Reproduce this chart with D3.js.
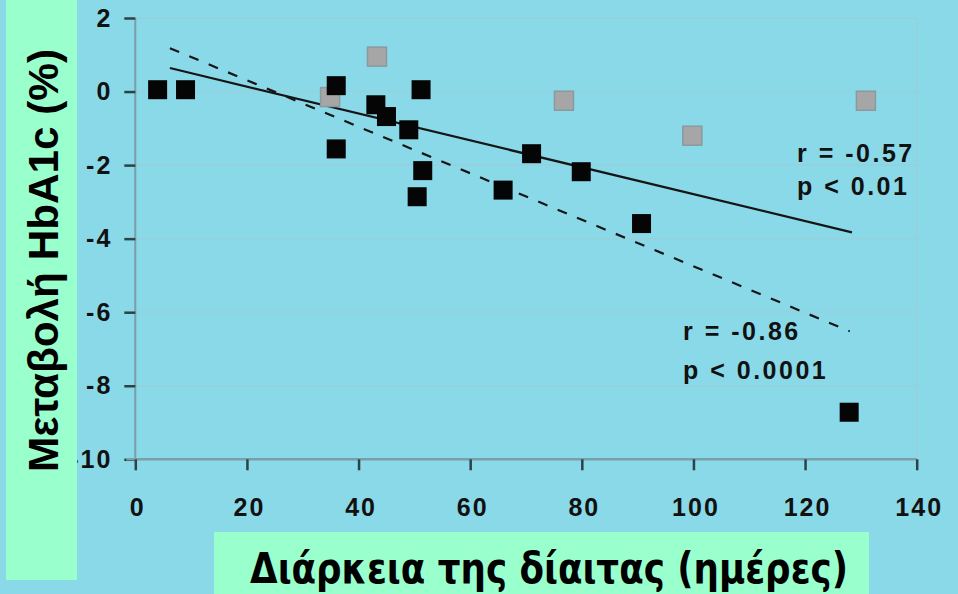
<!DOCTYPE html>
<html>
<head>
<meta charset="utf-8">
<script src="https://cdn.jsdelivr.net/npm/d3@7"></script>
<style>
  html, body { margin: 0; padding: 0; background: #8ad9e8; }
  svg { display: block; }
</style>
</head>
<body>
<svg id="chart" width="958" height="594"></svg>
<script>
// Diet duration (days) vs change in HbA1c (%)
const blackDays   = [4, 9, 36, 36, 43.1, 45, 49, 51.2, 51.5, 50.5, 65.9, 71, 79.9, 90.7, 127.9];
const blackChange = [0.05, 0.05, 0.16, -1.56, -0.36, -0.68, -1.04, 0.05, -2.15, -2.86, -2.68, -1.69, -2.18, -3.59, -8.72];

const grayDays   = [34.9, 43.3, 76.8, 99.8, 130.9];
const grayChange = [-0.15, 0.95, -0.25, -1.2, -0.25];

// Regression lines, given by their end points [days, change]
const fitAll   = [[6.2, 0.64], [128.4, -3.83]];   // r = -0.57
const fitBlack = [[6.2, 1.18], [128.0, -6.52]];   // r = -0.86

const xTicks = [0, 20, 40, 60, 80, 100, 120, 140];
const yTicks = [2, 0, -2, -4, -6, -8, -10];

const statsAll   = ["r = -0.57", "p < 0.01"];
const statsBlack = ["r = -0.86", "p < 0.0001"];

const xTitle = "Διάρκεια της δίαιτας (ημέρες)";
const yTitle = "Μεταβολή HbA1c (%)";

const svg = d3.select("#chart");
const W = 958, H = 594;

svg.append("rect").attr("width", W).attr("height", H).attr("fill", "#8ad9e8");

const x = d3.scaleLinear().domain([0, 140]).range([135.3, 916.7]);
const y = d3.scaleLinear().domain([-10, 2]).range([459.3, 18]);

const tickFont = "'Liberation Sans', Arial, sans-serif";
const plain = d => String(d);   // ASCII hyphen for negatives

// faint gridlines and frame
const grid = svg.append("g");
grid.selectAll("line.h").data(yTicks.filter(v => v > -10)).join("line")
  .attr("x1", x(0)).attr("x2", x(140))
  .attr("y1", d => y(d)).attr("y2", d => y(d))
  .attr("stroke", "#a2c9d0").attr("stroke-opacity", 0.5).attr("stroke-width", 1.5);
grid.append("line")
  .attr("x1", x(140)).attr("x2", x(140)).attr("y1", y(2)).attr("y2", y(-10))
  .attr("stroke", "#a2c9d0").attr("stroke-opacity", 0.5).attr("stroke-width", 1.5);

// y axis
const yAxis = d3.axisLeft(y).tickValues(yTicks).tickSize(11).tickPadding(14)
  .tickFormat(plain);
const gy = svg.append("g").attr("transform", `translate(${x(0)},0)`).call(yAxis);
gy.select(".domain").attr("stroke", "#7a9fa8").attr("stroke-width", 2)
  .attr("d", `M0,${y(2)}V${y(-10)}`);
gy.selectAll(".tick line").attr("stroke", "#2e4146").attr("stroke-width", 2.5);
gy.selectAll(".tick text")
  .attr("font-family", tickFont).attr("font-weight", "bold").attr("font-size", 25)
  .attr("letter-spacing", 2).attr("fill", "#111").attr("dx", 2);

// x axis
const xAxis = d3.axisBottom(x).tickValues(xTicks).tickSize(11).tickPadding(28)
  .tickFormat(plain);
const gx = svg.append("g").attr("transform", `translate(0,${y(-10)})`).call(xAxis);
gx.select(".domain").attr("stroke", "#7a9fa8").attr("stroke-width", 2.5)
  .attr("d", `M${x(0) - 9},0H${x(140)}`);
gx.selectAll(".tick line").attr("stroke", "#2e4146").attr("stroke-width", 2.5);
gx.selectAll(".tick text")
  .attr("font-family", tickFont).attr("font-weight", "bold").attr("font-size", 25)
  .attr("letter-spacing", 2).attr("fill", "#111").attr("dx", 2);

// regression lines
const line = d3.line().x(d => x(d[0])).y(d => y(d[1]));
svg.append("path").datum(fitAll).attr("d", line)
  .attr("stroke", "#151515").attr("stroke-width", 2.2).attr("fill", "none");
svg.append("path").datum(fitBlack).attr("d", line)
  .attr("stroke", "#151515").attr("stroke-width", 2.2).attr("fill", "none")
  .attr("stroke-dasharray", "10,11");

// squares
const S = 19;
svg.append("g").selectAll("rect").data(d3.range(grayDays.length)).join("rect")
  .attr("x", i => x(grayDays[i]) - S / 2).attr("y", i => y(grayChange[i]) - S / 2)
  .attr("width", S).attr("height", S)
  .attr("fill", "#a6a6a6").attr("stroke", "#8a9a9e").attr("stroke-width", 1.5);
svg.append("g").selectAll("rect").data(d3.range(blackDays.length)).join("rect")
  .attr("x", i => x(blackDays[i]) - S / 2).attr("y", i => y(blackChange[i]) - S / 2)
  .attr("width", S).attr("height", S)
  .attr("fill", "#050505");

// correlation annotations
function stats(lines, x0, baselines) {
  svg.append("g").selectAll("text").data(lines).join("text")
    .attr("x", x0).attr("y", (d, i) => baselines[i])
    .attr("font-family", tickFont).attr("font-weight", "bold").attr("font-size", 25)
    .attr("letter-spacing", 2.5).attr("fill", "#111")
    .text(d => d);
}
stats(statsAll, 797, [162, 195]);
stats(statsBlack, 683, [340, 379]);

// axis title panels
svg.append("rect").attr("x", 6).attr("y", 0).attr("width", 71).attr("height", 580)
  .attr("fill", "#99ffcc");
svg.append("rect").attr("x", 214).attr("y", 532).attr("width", 655).attr("height", 62)
  .attr("fill", "#99ffcc");

svg.append("text")
  .attr("transform", "translate(58,260.5) rotate(-90)")
  .attr("text-anchor", "middle")
  .attr("font-family", tickFont).attr("font-weight", "bold").attr("font-size", 42)
  .attr("textLength", 423).attr("lengthAdjust", "spacingAndGlyphs")
  .attr("fill", "#000")
  .text(yTitle);

svg.append("text")
  .attr("x", 549).attr("y", 583)
  .attr("text-anchor", "middle")
  .attr("font-family", "'DejaVu Sans', Verdana, sans-serif").attr("font-weight", "bold")
  .attr("font-size", 42)
  .attr("textLength", 598).attr("lengthAdjust", "spacingAndGlyphs")
  .attr("fill", "#000")
  .text(xTitle);
</script>
</body>
</html>
